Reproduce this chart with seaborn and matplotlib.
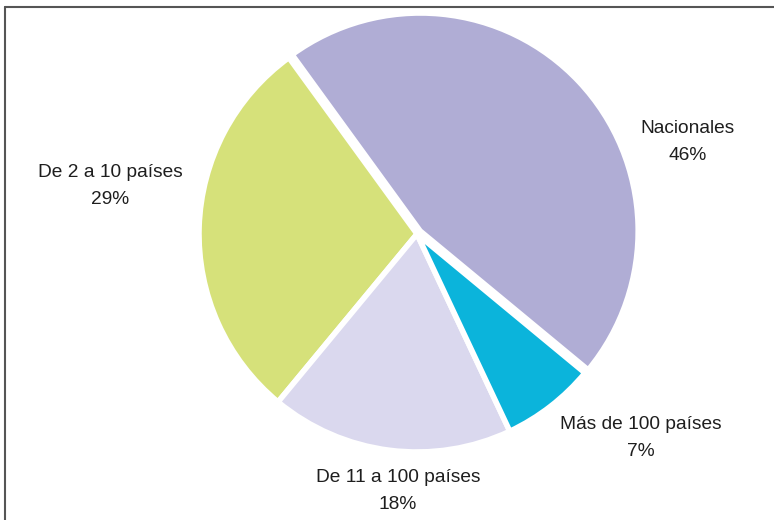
import matplotlib
matplotlib.use("Agg")
import matplotlib.pyplot as plt
import seaborn as sns
from matplotlib.lines import Line2D

categories = ["Nacionales", "De 2 a 10 países", "De 11 a 100 países", "Más de 100 países"]
shares = [46, 29, 18, 7]
pct_labels = ["46%", "29%", "18%", "7%"]
colors = ["#B0ADD5", "#D6E17A", "#DAD8EE", "#0BB4DB"]

sns.set_style("white")
plt.rcParams["font.family"] = ["Liberation Sans", "DejaVu Sans"]

fig = plt.figure(figsize=(7.74, 5.2), dpi=100)
ax = fig.add_axes([199 / 774, 68 / 520, 436 / 774, 436 / 520])

wedges, _ = ax.pie(
    shares,
    colors=colors,
    startangle=-39.6,
    counterclock=True,
    explode=[0.02, 0, 0, 0],
    wedgeprops=dict(edgecolor="white", linewidth=4),
)
ax.set_xlim(-1, 1)
ax.set_ylim(-1, 1)
ax.set_aspect("equal")
ax.axis("off")

# label positions (pixels from top-left)
label_pos = [(688, 142), (110, 186), (398, 491), (641, 438)]
for cat, pct, (px, py) in zip(categories, pct_labels, label_pos):
    fig.text(px / 774, 1 - py / 520, cat + "\n" + pct, ha="center", va="center",
             fontsize=13.8, color="#1e1e1e", linespacing=1.75)

# frame lines (top and left)
fig.add_artist(Line2D([4.5 / 774, 1], [1 - 6.5 / 520, 1 - 6.5 / 520],
                      transform=fig.transFigure, color="#555555", lw=1.5))
fig.add_artist(Line2D([4.5 / 774, 4.5 / 774], [0, 1 - 6.5 / 520],
                      transform=fig.transFigure, color="#555555", lw=1.5))

fig.savefig("out.png", dpi=100, facecolor="white")
